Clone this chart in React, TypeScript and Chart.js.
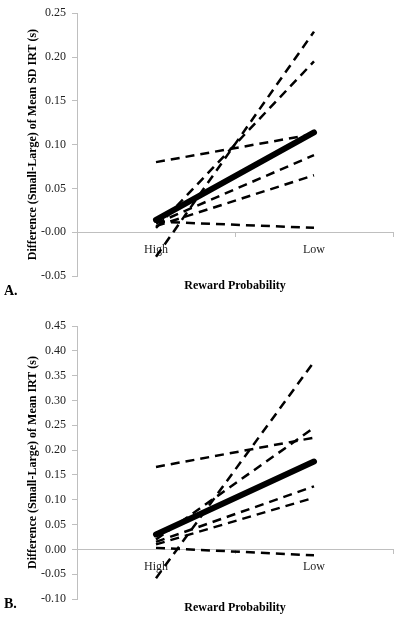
import React, { useEffect, useRef } from "react";
import { Chart, registerables } from "chart.js";

Chart.register(...registerables);

// ---------- data ----------
const categories = ["High", "Low"];

// Panel A: Difference (Small-Large) of Mean SD IRT (s)
const meanA = [0.014, 0.114];
const subjA1 = [-0.028, 0.229];
const subjA2 = [0.005, 0.195];
const subjA3 = [0.080, 0.112];
const subjA4 = [0.010, 0.088];
const subjA5 = [0.007, 0.065];
const subjA6 = [0.012, 0.005];
const yRangeA = [-0.05, 0.25];

// Panel B: Difference (Small-Large) of Mean IRT (s)
const meanB = [0.03, 0.177];
const subjB1 = [-0.058, 0.378];
const subjB2 = [0.166, 0.225];
const subjB3 = [0.020, 0.245];
const subjB4 = [0.015, 0.127];
const subjB5 = [0.010, 0.104];
const subjB6 = [0.003, -0.012];
const yRangeB = [-0.10, 0.45];

const yStep = 0.05;

const FONT = "'Liberation Serif', 'Times New Roman', serif";
const AXIS_COLOR = "#bfbfbf";

type PanelProps = {
  mean: number[];
  subjects: number[][];
  yRange: number[];
  yTitle: string;
  height: number;
  padTop: number;
  padBottom: number;
};

function Panel({ mean, subjects, yRange, yTitle, height, padTop, padBottom }: PanelProps) {
  const ref = useRef<HTMLCanvasElement | null>(null);
  useEffect(() => {
    if (!ref.current) return;
    const datasets: any[] = subjects.map((s) => ({
      data: s,
      borderColor: "#000",
      borderWidth: 2.5,
      borderDash: [9, 6],
      pointRadius: 0,
      fill: false,
      tension: 0,
    }));
    datasets.push({
      data: mean,
      borderColor: "#000",
      borderWidth: 6,
      borderCapStyle: "round",
      pointRadius: 0,
      fill: false,
      tension: 0,
    });
    const chart = new Chart(ref.current, {
      type: "line",
      data: { labels: categories, datasets },
      options: {
        responsive: false,
        animation: false,
        devicePixelRatio: 1,
        layout: { padding: { top: padTop, bottom: padBottom, left: 0, right: 7 } },
        plugins: { legend: { display: false }, tooltip: { enabled: false } },
        scales: {
          x: {
            type: "category",
            position: { y: 0 } as any,
            offset: true,
            afterFit: (s: any) => {
              s.height = 0;
            },
            grid: {
              offset: true,
              drawOnChartArea: false,
              drawTicks: true,
              tickLength: 4,
              color: AXIS_COLOR,
            },
            border: { display: true, color: AXIS_COLOR, width: 1 },
            ticks: {
              color: "#222",
              padding: 6,
              font: { family: FONT, size: 12 },
              maxRotation: 0,
            },
          },
          y: {
            min: yRange[0],
            max: yRange[1],
            afterFit: (s: any) => {
              s.width = 77;
            },
            grid: {
              drawOnChartArea: false,
              drawTicks: true,
              tickLength: 5,
              color: AXIS_COLOR,
            },
            border: { display: true, color: AXIS_COLOR, width: 1 },
            ticks: {
              stepSize: yStep,
              color: "#222",
              padding: 6,
              font: { family: FONT, size: 12 },
              callback: (v: any) => Number(v).toFixed(2),
            },
            title: {
              display: true,
              text: yTitle,
              color: "#000",
              font: { family: FONT, size: 12, weight: "bold" },
              padding: { top: 26, bottom: 0 },
            },
          },
        },
      },
    });
    return () => chart.destroy();
  }, []);
  return <canvas ref={ref} width={400} height={height} style={{ display: "block" }} />;
}

const labelStyle: React.CSSProperties = {
  position: "absolute",
  fontFamily: FONT,
  fontWeight: "bold",
  color: "#000",
  whiteSpace: "nowrap",
  lineHeight: 1,
};

export default function App() {
  return (
    <div
      style={{
        position: "fixed",
        left: 0,
        top: 0,
        width: 400,
        height: 617,
        background: "#fff",
        overflow: "hidden",
      }}
    >
      <div style={{ position: "absolute", left: 0, top: 0, width: 400, height: 300 }}>
        <Panel
          mean={meanA}
          subjects={[subjA1, subjA2, subjA3, subjA4, subjA5, subjA6]}
          yRange={yRangeA}
          yTitle="Difference (Small-Large) of Mean SD IRT (s)"
          height={300}
          padTop={10}
          padBottom={24}
        />
        <div style={{ ...labelStyle, left: 4, top: 284, fontSize: 14 }}>A.</div>
        <div
          style={{
            ...labelStyle,
            left: 235,
            top: 279,
            fontSize: 12,
            transform: "translateX(-50%)",
          }}
        >
          Reward Probability
        </div>
      </div>
      <div style={{ position: "absolute", left: 0, top: 300, width: 400, height: 317 }}>
        <Panel
          mean={meanB}
          subjects={[subjB1, subjB2, subjB3, subjB4, subjB5, subjB6]}
          yRange={yRangeB}
          yTitle="Difference (Small-Large) of Mean IRT (s)"
          height={317}
          padTop={26}
          padBottom={18}
        />
        <div style={{ ...labelStyle, left: 4, top: 297, fontSize: 14 }}>B.</div>
        <div
          style={{
            ...labelStyle,
            left: 235,
            top: 301,
            fontSize: 12,
            transform: "translateX(-50%)",
          }}
        >
          Reward Probability
        </div>
      </div>
    </div>
  );
}
